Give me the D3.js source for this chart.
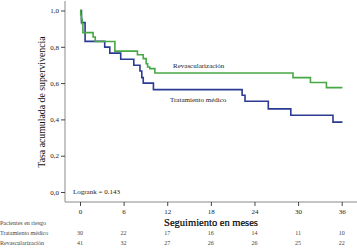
<!DOCTYPE html>
<html>
<head>
<meta charset="utf-8">
<script src="https://cdn.jsdelivr.net/npm/d3@7"></script>
<style>
  body { margin: 0; background: #fff; }
  svg { display: block; font-family: "Liberation Serif", "DejaVu Serif", serif; }
</style>
</head>
<body>
<script>
// Kaplan-Meier steps
var revascTimes = [0, 0.1, 0.2, 0.3, 0.4, 1.8, 2.1, 4.8, 7.9, 8.7, 9.1, 9.3, 9.6, 10.3, 29.3, 31.7, 33.9, 36.1];
var revascSurv  = [1.0, 0.976, 0.951, 0.927, 0.878, 0.854, 0.829, 0.776, 0.756, 0.735, 0.707, 0.689, 0.68, 0.656, 0.63, 0.603, 0.575, 0.575];

var medTimes = [0, 0.2, 0.7, 3.4, 4.1, 5.6, 7.4, 8.25, 8.5, 8.7, 10.1, 22.3, 22.7, 25.9, 29.0, 34.8, 36.1];
var medSurv  = [1.0, 0.933, 0.83, 0.798, 0.765, 0.731, 0.698, 0.667, 0.63, 0.60, 0.564, 0.533, 0.5, 0.458, 0.423, 0.385, 0.385];

var xTicks = [0, 6, 12, 18, 24, 30, 36];
var yTicks = [0, 0.2, 0.4, 0.6, 0.8, 1.0];

var riskLabels = ["Tratamiento médico", "Revascularización"];
var riskMed    = [30, 22, 17, 16, 14, 11, 10];
var riskRevasc = [41, 32, 27, 26, 26, 25, 22];

var w = 357, h = 249;
var axisX = 65, axisY = 202;

var svg = d3.select("body").append("svg")
  .attr("width", w)
  .attr("height", h);

var x = d3.scaleLinear().domain([0, 36]).range([80, 341.7]);
var y = d3.scaleLinear().domain([0, 1]).range([192, 10.5]);

// frame lines
svg.append("line")
  .attr("x1", axisX).attr("x2", axisX)
  .attr("y1", 1).attr("y2", axisY)
  .attr("stroke", "#8a8a8a").attr("stroke-width", 1);
svg.append("line")
  .attr("x1", axisX).attr("x2", w)
  .attr("y1", axisY).attr("y2", axisY)
  .attr("stroke", "#8a8a8a").attr("stroke-width", 1);

// y axis
var yAxis = svg.append("g")
  .attr("transform", "translate(" + axisX + ",0)")
  .call(d3.axisLeft(y).tickValues(yTicks).tickSize(4)
    .tickFormat(function(d) { return d3.format(".1f")(d).replace(".", ","); }));
yAxis.select(".domain").remove();
yAxis.selectAll("line").attr("stroke", "#444");
yAxis.selectAll("text")
  .attr("font-family", "Liberation Serif, serif")
  .attr("font-size", "7px")
  .attr("fill", "#222")
  .attr("x", -6);

// x axis
var xAxis = svg.append("g")
  .attr("transform", "translate(0," + axisY + ")")
  .call(d3.axisBottom(x).tickValues(xTicks).tickSize(4));
xAxis.select(".domain").remove();
xAxis.selectAll("line").attr("stroke", "#444");
xAxis.selectAll("text")
  .attr("font-family", "Liberation Serif, serif")
  .attr("font-size", "7px")
  .attr("fill", "#222")
  .attr("y", 7);

// axis titles
svg.append("text")
  .attr("transform", "translate(45,102) rotate(-90)")
  .attr("text-anchor", "middle")
  .attr("font-size", "9.8px")
  .attr("fill", "#111")
  .text("Tasa acumulada de supervivencia");

svg.append("text")
  .attr("x", 211)
  .attr("y", 226)
  .attr("text-anchor", "middle")
  .attr("font-size", "10.5px")
  .attr("fill", "#000")
  .attr("stroke", "#000")
  .attr("stroke-width", 0.2)
  .text("Seguimiento en meses");

// curves
var line = d3.line()
  .x(function(d) { return x(d[0]); })
  .y(function(d) { return y(d[1]); })
  .curve(d3.curveStepAfter);

svg.append("path")
  .datum(d3.zip(medTimes, medSurv))
  .attr("d", line)
  .attr("fill", "none")
  .attr("stroke", "#2b3a92")
  .attr("stroke-width", 1.6);

svg.append("path")
  .datum(d3.zip(revascTimes, revascSurv))
  .attr("d", line)
  .attr("fill", "none")
  .attr("stroke", "#47a845")
  .attr("stroke-width", 1.6);

// curve labels
svg.append("text")
  .attr("x", 173).attr("y", 68)
  .attr("font-size", "7px").attr("fill", "#222")
  .text("Revascularización");
svg.append("text")
  .attr("x", 170).attr("y", 102)
  .attr("font-size", "7px").attr("fill", "#222")
  .text("Tratamiento médico");

svg.append("text")
  .attr("x", 73).attr("y", 193.5)
  .attr("font-size", "7px").attr("fill", "#222")
  .text("Logrank = 0.143");

// risk table
svg.append("text")
  .attr("x", 0).attr("y", 225)
  .attr("font-size", "6px").attr("fill", "#444")
  .text("Pacientes en riesgo");

var rows = [riskMed, riskRevasc];
rows.forEach(function(row, i) {
  var yy = 235 + i * 9.5;
  svg.append("text")
    .attr("x", 0).attr("y", yy)
    .attr("font-size", "6px").attr("fill", "#444")
    .text(riskLabels[i]);
  svg.selectAll(".risk" + i)
    .data(row)
    .enter().append("text")
    .attr("class", "risk" + i)
    .attr("x", function(d, j) { return x(xTicks[j]); })
    .attr("y", yy)
    .attr("text-anchor", "middle")
    .attr("font-size", "6px")
    .attr("fill", "#444")
    .text(function(d) { return d; });
});
</script>
</body>
</html>
